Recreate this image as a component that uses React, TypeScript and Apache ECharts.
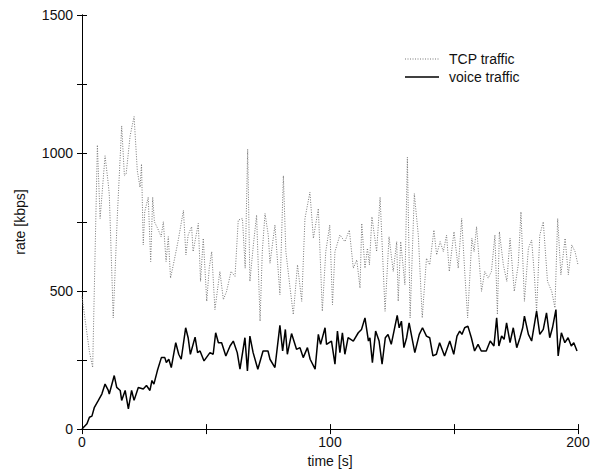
import React, { useEffect, useRef } from "react";
import * as echarts from "echarts";

const xTicks = [0, 100, 200];
const yTicks = [0, 500, 1000, 1500];

const voiceTime = [0,2,3,4,5,6.6,8,9.3,10.6,11,13,14,15.4,16,17.4,18.7,20,21,22.7,24.7,26,27.4,28.2,29,30.4,32,33.4,34,35,36,37.8,39,40,41.8,42.8,43.7,45.6,46.6,47.6,49.2,51.6,52.9,53.9,55,56.3,58,59.7,61,62.6,63.7,65.7,66.7,67.7,69,70.9,73,75,75.8,77.8,79.8,80.9,82,82.8,84.5,86.5,87.9,89.2,90.9,92,94,95.3,96.2,98,98.6,100.6,102,103,104,105,106,107.3,109.4,111.4,112.7,114.1,115.5,116.1,117.1,118.4,119.8,121,122.3,123.4,124.7,125.8,127.1,127.9,128.8,129.8,130.9,131.9,133.3,134.2,136,137.3,138.9,140.2,141.5,142.9,144.2,146.2,148.3,149.9,151.2,152.3,153.2,154.3,155.6,157,158.3,159.7,161,163,164.6,166.1,167.2,168.1,169.2,170.2,171.2,172.6,173.9,175.3,176.6,177.7,178.4,180,181.3,183.3,184.6,186,187.3,188.6,189.7,191.1,192,193.3,194.7,196,197.3,198.3,199.6];
const voiceRate = [0,19,43,47,79,104,127,163,140,127,194,151,140,104,140,73,140,104,151,145,158,140,176,163,212,259,259,241,253,223,313,271,253,367,331,271,333,277,283,247,277,271,349,313,313,265,301,319,277,217,331,211,337,277,217,283,283,253,223,376,283,361,271,346,289,295,259,295,253,217,343,307,367,307,319,235,355,277,349,271,331,319,349,361,403,319,331,241,355,319,235,331,343,307,355,412,367,391,295,331,385,319,277,343,367,337,331,265,271,313,265,319,271,337,355,343,367,373,331,283,307,283,283,319,301,403,301,337,325,385,313,367,295,331,367,409,343,319,427,343,361,421,331,367,433,265,349,313,331,301,313,283];

const tcpTime = [0,1.5,3,4.3,6.2,7.3,9.3,10.6,11,12.6,14.2,16,17.1,17.8,19.4,21,22.3,23.4,24,24.7,25.3,26.7,27.7,28.5,29.2,30.5,31.9,32.8,33.9,34.8,35.7,37.1,38.8,40.9,41.9,42.8,44.2,44.8,46.9,47.8,48.9,50.3,51.3,52.3,53.6,55.6,57,58.3,60.1,61.7,63,64.7,65.8,66.8,67.7,69.1,70.4,71.8,72.7,73.8,75.1,75.8,77.8,79.8,81.2,82.2,83.9,85.2,86.9,88.6,89.9,91.9,93.3,95.3,96.9,98.3,99.9,101,102,104,106,107.8,109.4,110.8,112.1,112.8,114.1,115.1,115.9,116.9,118.8,120.2,122.2,123.8,125.5,126.9,127.5,128.5,130.2,131.2,132.3,134,135.6,137.2,138.9,140.2,141.9,143,144.4,145.7,147,148.1,150,151.7,153.1,154.4,155.5,157.2,158.1,159.1,161.1,162.4,163.8,165.1,166.5,167.5,168.3,169.9,171.3,172.6,174.3,175.9,177,178.4,180,181.3,182.4,183.3,184.6,186,187.7,189.4,190.7,191.8,193.1,194.8,196.1,197.5,198.8,200];
const tcpRate = [480,380,280,223,1029,763,990,888,850,403,763,1098,918,924,1062,1132,936,876,960,667,787,840,607,840,751,727,697,751,607,697,547,607,684,792,631,703,733,643,745,535,691,463,583,643,433,571,469,499,571,553,757,763,583,1014,535,667,775,391,643,781,703,601,739,487,918,643,511,415,595,463,763,858,691,799,427,643,739,451,643,703,679,721,583,613,511,745,583,655,595,769,643,840,427,697,571,679,463,679,523,985,403,853,703,403,619,595,721,631,679,643,703,571,715,583,763,559,403,691,643,733,499,571,547,571,703,415,715,595,535,691,499,595,787,463,655,685,559,427,703,751,535,499,439,763,559,691,559,667,643,595];

const FONT = "Liberation Sans, Arial, Helvetica, sans-serif";

export default function App() {
  const ref = useRef<HTMLDivElement>(null);
  useEffect(() => {
    if (!ref.current) return;
    const chart = echarts.init(ref.current, null, { renderer: "svg" });
    const tcp = tcpTime.map((t, i) => [t, tcpRate[i]]);
    const voice = voiceTime.map((t, i) => [t, voiceRate[i]]);
    const axisCommon = {
      axisLine: { show: true, lineStyle: { color: "#000", width: 1 } },
      axisTick: { show: true, inside: true, length: 5, lineStyle: { color: "#000" } },
      splitLine: { show: false },
    };
    chart.setOption({
      animation: false,
      backgroundColor: "#fff",
      grid: { left: 82, right: 22, top: 15, bottom: 41 },
      xAxis: [
        {
          type: "value", min: 0, max: 200, interval: 50, position: "bottom",
          ...axisCommon,
          axisLabel: {
            margin: 6, color: "#111", fontFamily: FONT, fontSize: 14,
            formatter: (v: number) => (xTicks.includes(v) ? String(v) : ""),
          },
          name: "time [s]", nameLocation: "middle", nameGap: 23,
          nameTextStyle: { color: "#111", fontFamily: FONT, fontSize: 14 },
        },
        {
          type: "value", min: 0, max: 200, interval: 50, position: "top",
          ...axisCommon, axisLabel: { show: false },
        },
      ],
      yAxis: [
        {
          type: "value", min: 0, max: 1500, interval: 250, position: "left",
          ...axisCommon,
          axisLabel: {
            margin: 9, color: "#111", fontFamily: FONT, fontSize: 14,
            formatter: (v: number) => (yTicks.includes(v) ? String(v) : ""),
          },
          name: "rate [kbps]", nameLocation: "middle", nameGap: 55, nameRotate: 90,
          nameTextStyle: { color: "#111", fontFamily: FONT, fontSize: 14 },
        },
        {
          type: "value", min: 0, max: 1500, interval: 250, position: "right",
          ...axisCommon, axisLabel: { show: false },
        },
      ],
      series: [
        {
          name: "TCP traffic", type: "line", data: tcp, showSymbol: false, symbol: "none",
          lineStyle: { color: "#777", width: 1, type: [1, 1.5] },
          z: 2,
        },
        {
          name: "voice traffic", type: "line", data: voice, showSymbol: false, symbol: "none",
          lineStyle: { color: "#000", width: 1.5 },
          z: 3,
        },
      ],
      graphic: [
        { type: "line", shape: { x1: 405, y1: 59, x2: 439, y2: 59 }, style: { stroke: "#777", lineWidth: 1, lineDash: [1, 1.5] } },
        { type: "text", x: 449, y: 59, style: { text: "TCP traffic", fill: "#111", font: `14px ${FONT}`, textVerticalAlign: "middle" } },
        { type: "line", shape: { x1: 405, y1: 77, x2: 439, y2: 77 }, style: { stroke: "#000", lineWidth: 1.5 } },
        { type: "text", x: 449, y: 77, style: { text: "voice traffic", fill: "#111", font: `14px ${FONT}`, textVerticalAlign: "middle" } },
      ],
    });
    return () => chart.dispose();
  }, []);
  return (
    <div
      ref={ref}
      style={{ position: "fixed", left: 0, top: 0, width: 600, height: 473, background: "#fff" }}
    />
  );
}
